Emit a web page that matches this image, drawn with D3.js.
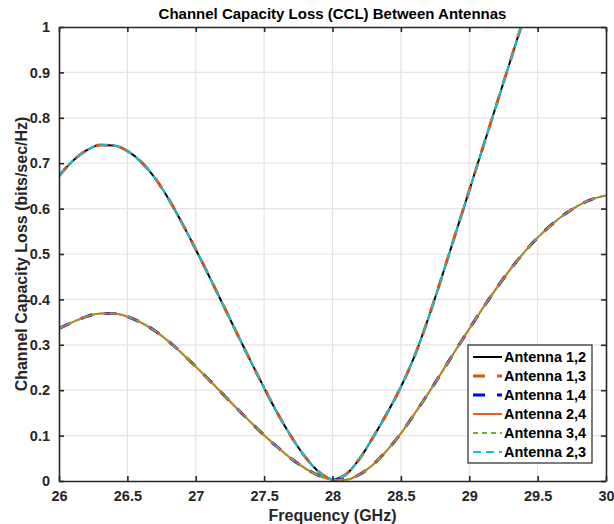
<!DOCTYPE html>
<html>
<head>
<meta charset="utf-8">
<script src="https://cdn.jsdelivr.net/npm/d3@7"></script>
<style>
	body { margin: 0; background: white; }
	text { font-family: "Liberation Sans", Arial, sans-serif; font-weight: bold; }
</style>
</head>
<body>
<div id="chart"></div>
<script>
// frequencies (GHz) for the sampled curves
var freq = [26.0, 26.1, 26.2, 26.3, 26.4, 26.5, 26.6, 26.7, 26.8, 26.9,
	27.0, 27.1, 27.2, 27.3, 27.4, 27.5, 27.6, 27.7, 27.8, 27.9,
	28.0, 28.1, 28.2, 28.3, 28.4, 28.5, 28.6, 28.7, 28.8, 28.9,
	29.0, 29.1, 29.2, 29.3, 29.4, 29.5, 29.6, 29.7, 29.8, 29.9, 30.0];

// upper curve (pairs 1,2 / 1,3 / 2,3)
var cclUpper = [0.672, 0.705, 0.728, 0.740, 0.739, 0.727, 0.703, 0.668, 0.622, 0.568,
	0.510, 0.450, 0.388, 0.326, 0.265, 0.205, 0.148, 0.097, 0.053, 0.020,
	0.004, 0.015, 0.050, 0.098, 0.150, 0.207, 0.275, 0.358, 0.450, 0.545,
	0.640, 0.735, 0.830, 0.925, 1.020, 1.110, 1.200, 1.290, 1.380, 1.470, 1.560];

// lower curve (pairs 1,4 / 2,4 / 3,4)
var cclLower = [0.336, 0.350, 0.362, 0.369, 0.369, 0.362, 0.349, 0.331, 0.308, 0.281,
	0.252, 0.222, 0.191, 0.160, 0.130, 0.101, 0.074, 0.049, 0.028, 0.012,
	0.003, 0.003, 0.015, 0.037, 0.068, 0.105, 0.148, 0.193, 0.240, 0.288,
	0.335, 0.381, 0.425, 0.466, 0.503, 0.536, 0.564, 0.588, 0.607, 0.621, 0.629];

var seriesNames = ["Antenna 1,2", "Antenna 1,3", "Antenna 1,4", "Antenna 2,4", "Antenna 3,4", "Antenna 2,3"];
var seriesCurve = ["upper", "upper", "lower", "lower", "lower", "upper"];

var xTicks = [26, 26.5, 27, 27.5, 28, 28.5, 29, 29.5, 30];
var yTicks = [0, 0.1, 0.2, 0.3, 0.4, 0.5, 0.6, 0.7, 0.8, 0.9, 1];

var styles = {
	"Antenna 1,2": { color: "#000000", width: 2,   dash: null },
	"Antenna 1,3": { color: "#D95319", width: 3,   dash: "12,12" },
	"Antenna 1,4": { color: "#0000FF", width: 3,   dash: "12,12" },
	"Antenna 2,4": { color: "#E8601C", width: 2,   dash: null },
	"Antenna 3,4": { color: "#77AC30", width: 2,   dash: "5,4" },
	"Antenna 2,3": { color: "#17BECF", width: 2,   dash: "8,5" }
};

function CCLChart(config){
	var W = config.width, H = config.height;
	var m = config.margin;

	var svg = d3.select("#chart").append("svg")
		.attr("width", W)
		.attr("height", H);

	var x = d3.scaleLinear().domain([26, 30]).range([m.left, W - m.right]);
	var y = d3.scaleLinear().domain([0, 1]).range([H - m.bottom, m.top]);

	// grid
	svg.append("g").selectAll("line")
		.data(xTicks.slice(1, -1)).enter().append("line")
		.attr("x1", d => x(d)).attr("x2", d => x(d))
		.attr("y1", y(0)).attr("y2", y(1))
		.style("stroke", "#e3e3e3").style("stroke-width", 1.2);
	svg.append("g").selectAll("line")
		.data(yTicks.slice(1, -1)).enter().append("line")
		.attr("x1", x(26)).attr("x2", x(30))
		.attr("y1", d => y(d)).attr("y2", d => y(d))
		.style("stroke", "#e3e3e3").style("stroke-width", 1.2);

	svg.append("clipPath").attr("id", "plotclip")
		.append("rect")
		.attr("x", x(26)).attr("y", y(1))
		.attr("width", x(30) - x(26)).attr("height", y(0) - y(1));

	var line = d3.line()
		.x(d => x(d[0]))
		.y(d => y(d[1]))
		.curve(d3.curveMonotoneX);

	var curves = {
		upper: freq.map((f, i) => [f, cclUpper[i]]),
		lower: freq.map((f, i) => [f, cclLower[i]])
	};

	var plot = svg.append("g").attr("clip-path", "url(#plotclip)");
	seriesNames.forEach((name, i) => {
		var s = styles[name];
		plot.append("path")
			.datum(curves[seriesCurve[i]])
			.attr("d", line)
			.style("fill", "none")
			.style("stroke", s.color)
			.style("stroke-width", s.width)
			.style("stroke-dasharray", s.dash);
	});

	// axes, ticks inside on all four sides
	var axisColor = "#262626";
	var xb = svg.append("g").attr("transform", "translate(0," + y(0) + ")")
		.call(d3.axisBottom(x).tickValues(xTicks).tickSizeInner(-5).tickSizeOuter(0).tickPadding(10).tickFormat(d3.format("")));
	var xt = svg.append("g").attr("transform", "translate(0," + y(1) + ")")
		.call(d3.axisTop(x).tickValues(xTicks).tickSizeInner(-5).tickSizeOuter(0).tickFormat(""));
	var yl = svg.append("g").attr("transform", "translate(" + x(26) + ",0)")
		.call(d3.axisLeft(y).tickValues(yTicks).tickSizeInner(-5).tickSizeOuter(0).tickPadding(9).tickFormat(d3.format("")));
	var yr = svg.append("g").attr("transform", "translate(" + x(30) + ",0)")
		.call(d3.axisRight(y).tickValues(yTicks).tickSizeInner(-5).tickSizeOuter(0).tickFormat(""));

	[xb, xt, yl, yr].forEach(g => {
		g.select(".domain").style("stroke", axisColor).style("stroke-width", 1.6);
		g.selectAll(".tick line").style("stroke", axisColor).style("stroke-width", 1.6);
		g.selectAll(".tick text")
			.style("fill", "#262626")
			.style("font-size", "14.5px")
			.style("font-family", "Liberation Sans, Arial, sans-serif")
			.style("font-weight", "bold");
	});

	// title and labels
	svg.append("text")
		.attr("x", (x(26) + x(30)) / 2)
		.attr("y", 19)
		.style("text-anchor", "middle")
		.style("font-size", "15px")
		.style("fill", "#000")
		.text(config.title);

	svg.append("text")
		.attr("x", (x(26) + x(30)) / 2)
		.attr("y", 521)
		.style("text-anchor", "middle")
		.style("font-size", "16px")
		.style("fill", "#262626")
		.text(config.xLabel);

	svg.append("text")
		.attr("transform", "translate(27," + ((y(0) + y(1)) / 2) + ") rotate(-90)")
		.style("text-anchor", "middle")
		.style("font-size", "16px")
		.style("fill", "#262626")
		.text(config.yLabel);

	// legend
	var lg = svg.append("g").attr("transform", "translate(468,345)");
	lg.append("rect")
		.attr("width", 124).attr("height", 118)
		.style("fill", "white")
		.style("stroke", axisColor)
		.style("stroke-width", 1.2);
	seriesNames.forEach((name, i) => {
		var s = styles[name];
		var cy = 12 + i * 19;
		lg.append("line")
			.attr("x1", 5).attr("x2", 34)
			.attr("y1", cy).attr("y2", cy)
			.style("stroke", s.color)
			.style("stroke-width", s.width)
			.style("stroke-dasharray", s.dash);
		lg.append("text")
			.attr("x", 36).attr("y", cy)
			.attr("dy", "0.35em")
			.style("font-size", "14.5px")
			.style("fill", "#000")
			.text(name);
	});
}

CCLChart({
	width: 614,
	height: 524,
	margin: { left: 59, right: 8, top: 27, bottom: 43 },
	title: "Channel Capacity Loss (CCL) Between Antennas",
	xLabel: "Frequency (GHz)",
	yLabel: "Channel Capacity Loss (bits/sec/Hz)"
});
</script>
</body>
</html>
